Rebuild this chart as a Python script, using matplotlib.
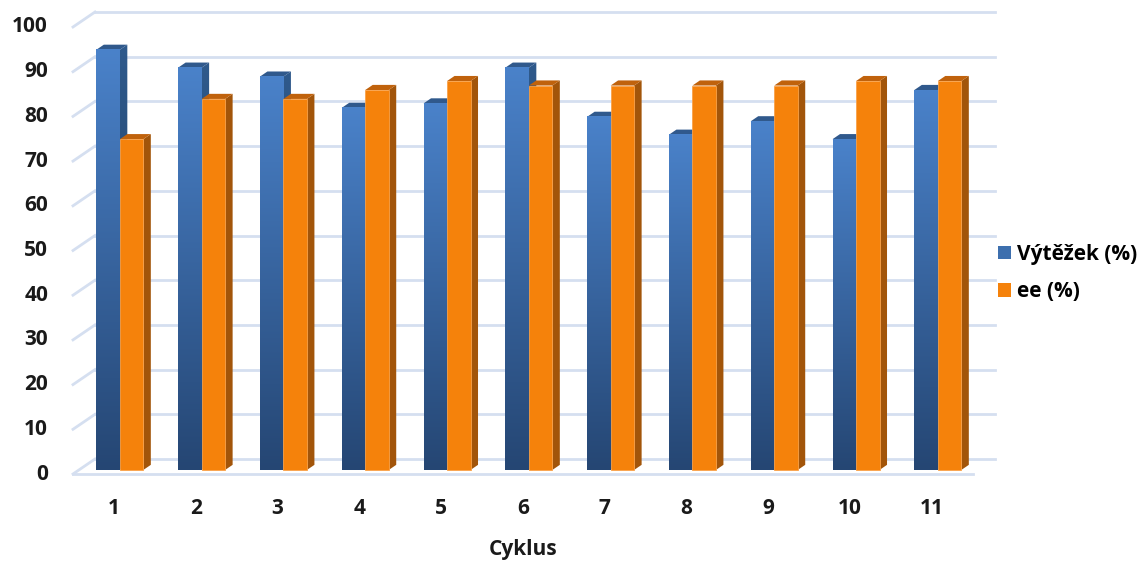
import matplotlib.pyplot as plt
import numpy as np
from matplotlib.colors import LinearSegmentedColormap
from matplotlib.patches import Polygon, Patch

cycles = [str(i) for i in range(1, 12)]
vytezek = [94, 90, 88, 81, 82, 90, 79, 75, 78, 74, 85]
ee = [74, 83, 83, 85, 87, 86, 86, 86, 86, 87, 87]
y_ticks = list(range(0, 101, 10))
series_labels = ["Výtěžek (%)", "ee (%)"]

plt.rcParams["font.family"] = ["Open Sans", "DejaVu Sans"]

W, H = 1137, 563
PX_CAT = 81.8   # pixels per category
PX_VAL = 4.47   # pixels per percent
X0, Y0 = 73, 474  # front-left floor corner in pixels

fig = plt.figure(figsize=(W / 100, H / 100), dpi=100)
ax = fig.add_axes([0, 0, 1, 1])
ax.axis("off")

# oblique depth of the box, and of the bars
DX, DY = 22 / PX_CAT, 15 / PX_VAL
t_front = 0.27
bdx, bdy = 0.34 * DX, 0.34 * DY
offx, offy = t_front * DX, t_front * DY
bw = 23.5 / PX_CAT

txt = dict(fontsize=15, fontweight="bold", color="#1a1a1a")
grid_c = "#d5dff0"
n = len(cycles)
for v in y_ticks:
    ax.plot([0.5 + DX, n + 0.5 + DX], [v + DY, v + DY], color=grid_c, lw=2, zorder=1)
    ax.plot([0.5, 0.5 + DX], [v, v + DY], color=grid_c, lw=2, zorder=1)
    ax.text(0.5 - 25 / PX_CAT, v, str(v), ha="right", va="center", **txt)
ax.plot([0.5, n + 0.5], [0, 0], color=grid_c, lw=2, zorder=1)

blue_front = LinearSegmentedColormap.from_list("bf", ["#254673", "#4a82ca"])
blue_side = LinearSegmentedColormap.from_list("bs", ["#1b3456", "#2f5a8c"])
grad = np.linspace(0, 1, 256).reshape(-1, 1)


def draw_bar(x0, val, front, side, top, z):
    x1 = x0 + bw
    yb, yt = offy, offy + val
    side_poly = Polygon([(x1, yb), (x1 + bdx, yb + bdy), (x1 + bdx, yt + bdy), (x1, yt)],
                        closed=True, lw=0, zorder=z)
    top_poly = Polygon([(x0, yt), (x1, yt), (x1 + bdx, yt + bdy), (x0 + bdx, yt + bdy)],
                       closed=True, facecolor=top, lw=0, zorder=z)
    if isinstance(side, str):
        side_poly.set_facecolor(side)
        ax.add_patch(side_poly)
    else:
        side_poly.set_facecolor("none")
        ax.add_patch(side_poly)
        im = ax.imshow(grad, cmap=side, origin="lower", aspect="auto",
                       extent=(x1, x1 + bdx, yb, yt + bdy), zorder=z)
        im.set_clip_path(side_poly)
    ax.add_patch(top_poly)
    if isinstance(front, str):
        ax.bar(x0, val, width=bw, bottom=yb, align="edge", color=front,
               edgecolor="#f9a24a", lw=0.6, zorder=z + 0.5)
    else:
        ax.imshow(grad, cmap=front, origin="lower", aspect="auto",
                  extent=(x0, x1, yb, yt), zorder=z + 0.5)


for i in range(n):
    c = i + 1 + offx
    draw_bar(c - bw, vytezek[i], blue_front, blue_side, "#30598c", 2)
    draw_bar(c, ee[i], "#f5820b", "#a2550a", "#c0620c", 3)
    ax.text(i + 1, -7.8, cycles[i], ha="center", va="center", **txt)

ax.set_xlim(0.5 - X0 / PX_CAT, 0.5 + (W - X0) / PX_CAT)
ax.set_ylim(-(H - Y0) / PX_VAL, Y0 / PX_VAL)

ax.text(6, -16.8, "Cyklus", ha="center", va="center", **txt)

handles = [Patch(facecolor="#3d6fae"), Patch(facecolor="#f5820b")]
fig.legend(handles, series_labels, loc="center left",
           bbox_to_anchor=(998 / W, 1 - 273 / H), frameon=False,
           borderpad=0, borderaxespad=0, handlelength=0.6, handleheight=0.6,
           handletextpad=0.3, labelspacing=0.8,
           prop={"family": ["Open Sans", "DejaVu Sans"], "size": 15, "weight": "bold"})

fig.savefig("out.png", dpi=100)
